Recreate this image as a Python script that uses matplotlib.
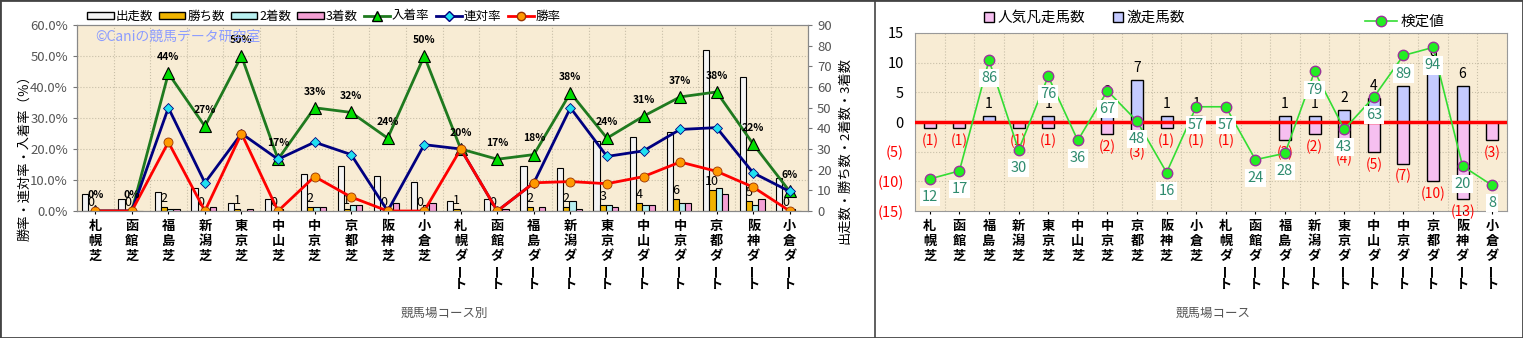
import numpy as np
import matplotlib
matplotlib.use('Agg')
import matplotlib.pyplot as plt
from matplotlib.lines import Line2D
from matplotlib.patches import Rectangle, Patch

plt.rcParams['font.family'] = ['Noto Sans CJK JP', 'DejaVu Sans']

# ---- data ----
courses = ['札幌芝', '函館芝', '福島芝', '新潟芝', '東京芝', '中山芝', '中京芝', '京都芝', '阪神芝', '小倉芝',
           '札幌ダート', '函館ダート', '福島ダート', '新潟ダート', '東京ダート', '中山ダート', '中京ダート',
           '京都ダート', '阪神ダート', '小倉ダート']

runs = [8, 6, 9, 11, 4, 6, 18, 22, 17, 14, 5, 6, 22, 21, 34, 36, 38, 78, 65, 16]
wins = [0, 0, 2, 0, 1, 0, 2, 1, 0, 0, 1, 0, 2, 2, 3, 4, 6, 10, 5, 0]
seconds = [0, 0, 1, 1, 0, 1, 2, 3, 0, 3, 0, 0, 0, 5, 3, 3, 4, 11, 3, 1]
thirds = [0, 0, 1, 2, 1, 0, 2, 3, 4, 4, 0, 1, 2, 1, 2, 3, 4, 8, 6, 0]

place_rate = [0, 0, 44.4, 27.3, 50.0, 16.7, 33.3, 31.8, 23.5, 50.0,
              20.0, 16.7, 18.2, 38.1, 23.5, 30.6, 36.8, 38.4, 21.6, 6.3]
quinella_rate = [0, 0, 33.3, 9.1, 25.0, 16.7, 22.2, 18.2, 0, 21.4,
                 20.0, 0, 9.1, 33.3, 17.6, 19.4, 26.3, 26.9, 12.3, 6.3]
win_rate = [0, 0, 22.2, 0, 25.0, 0, 11.1, 4.5, 0, 0,
            20.0, 0, 9.1, 9.5, 8.8, 11.1, 15.8, 12.8, 7.7, 0]

popular_fail = [-1, -1, 0, -1, -1, 0, -2, -3, -1, -1, -1, 0, -3, -2, -4, -5, -7, -10, -13, -3]
longshot = [0, 0, 1, 0, 1, 0, 3, 7, 1, 1, 0, 0, 1, 1, 2, 4, 6, 9, 6, 0]
test_value = [12, 17, 86, 30, 76, 36, 67, 48, 16, 57, 57, 24, 28, 79, 43, 63, 89, 94, 20, 8]

W, H = 1523, 338
fig = plt.figure(figsize=(W / 100, H / 100), dpi=100)
fig.patch.set_facecolor('white')

x = np.arange(len(courses))
bg = '#f8ecd4'
gridc = '#c8bfa8'


def vertical_labels(ax):
    # 縦書きのコース名
    ax.set_xticks(x)
    ax.set_xticklabels([''] * len(x))
    for i, name in enumerate(courses):
        for j, ch in enumerate(name):
            ax.annotate(ch, xy=(x[i], 0), xycoords=('data', 'axes fraction'),
                        xytext=(0, -11 - j * 10.6), textcoords='offset points',
                        ha='center', va='center', fontsize=9.5, fontweight='bold',
                        rotation=90 if ch == 'ー' else 0, annotation_clip=False)


# ================= left chart =================
axb = fig.add_axes([77 / W, 1 - 211 / H, 731 / W, 186 / H])
axb.set_facecolor(bg)
bar_cols = ['#f4f4f4', '#f0b400', '#b8f0f0', '#f4a0d4']
bar_names = ['出走数', '勝ち数', '2着数', '3着数']
w = 0.17
for k, (vals, col) in enumerate(zip([runs, wins, seconds, thirds], bar_cols)):
    axb.bar(x + (k - 1.5) * w - 0.03, vals, w, color=col, edgecolor='black', lw=0.8, zorder=2)
axb.set_xlim(-0.5, len(courses) - 0.5)
axb.set_ylim(0, 90)
axb.set_yticks(range(0, 91, 10))
vertical_labels(axb)
axb.tick_params(axis='x', length=2)
axb.set_xticks(np.arange(-0.5, len(courses), 1), minor=True)
axb.tick_params(axis='x', which='minor', length=0)
axb.grid(which='minor', axis='x', ls=':', color=gridc, lw=0.8, zorder=0)
for yy in range(15, 90, 15):
    axb.axhline(yy, ls=':', color=gridc, lw=0.8, zorder=0)
for s in axb.spines.values():
    s.set_color('#888888')

for i in x:
    axb.annotate(str(wins[i]), (x[i] - 0.5 * w - 0.03, wins[i]), xytext=(0, 1.5),
                 textcoords='offset points', ha='center', va='bottom', fontsize=9, zorder=3)

axl = axb.twinx()
axl.yaxis.tick_left()
axb.yaxis.tick_right()
axb.tick_params(axis='y', labelsize=9.5, labelcolor='#555555', length=3, color='#777777')
axl.set_ylim(0, 60)
axl.set_yticks(range(0, 61, 10))
axl.set_yticklabels([f'{v:.1f}%' for v in range(0, 61, 10)])
axl.tick_params(axis='y', labelsize=9.5, labelcolor='#555555', length=3, color='#777777')
for s in axl.spines.values():
    s.set_color('#888888')

axl.plot(x, place_rate, color='#1f7a1f', lw=2, marker='^', ms=8, mfc='#00dd00', mec='black', mew=0.8)
axl.plot(x, quinella_rate, color='#000080', lw=2, marker='D', ms=5, mfc='#20e0f0', mec='#000080', mew=0.6)
axl.plot(x, win_rate, color='#ff0000', lw=2, marker='o', ms=6.5, mfc='#ff9900', mec='#993300', mew=0.6)
for i in x:
    axl.annotate(f'{place_rate[i]:.0f}%', (x[i], place_rate[i]), xytext=(0, 8),
                 textcoords='offset points', ha='center', va='bottom', fontsize=7.5, fontweight='bold')

axl.text(0.025, 0.915, '©Caniの競馬データ研究室', transform=axl.transAxes, color='#8c9cff', fontsize=10)

fig.text(25 / W, 1 - 155 / H, '勝率・連対率・入着率（％）', rotation=90, ha='center', va='center', fontsize=9.5)
fig.text(845 / W, 1 - 150 / H, '出走数・勝ち数・2着数・3着数', rotation=90, ha='center', va='center', fontsize=9.5)
fig.text(444 / W, 1 - 313 / H, '競馬場コース別', ha='center', va='center', fontsize=9, color='#555555')

handles = [Patch(facecolor=c, edgecolor='black') for c in bar_cols]
handles += [Line2D([], [], color='#1f7a1f', lw=2, marker='^', ms=7, mfc='#00dd00', mec='black'),
            Line2D([], [], color='#000080', lw=2, marker='D', ms=5, mfc='#20e0f0', mec='#000080'),
            Line2D([], [], color='#ff0000', lw=2, marker='o', ms=6, mfc='#ff9900', mec='#993300')]
fig.legend(handles, bar_names + ['入着率', '連対率', '勝率'], loc='center left',
           bbox_to_anchor=(76 / W, 1 - 16 / H), ncol=7, frameon=False, fontsize=9,
           handlelength=2.1, handleheight=0.5, columnspacing=0.5, handletextpad=0.15)

# ================= right chart =================
ax2 = fig.add_axes([915 / W, 1 - 211 / H, 592 / W, 178 / H])
ax2.set_facecolor(bg)
ax2.bar(x, popular_fail, 0.4, color='#f6bff0', edgecolor='black', lw=1, zorder=2)
ax2.bar(x, longshot, 0.4, color='#c4caff', edgecolor='black', lw=1, zorder=2)
ax2.axhline(0, color='#ff0000', lw=2.5, zorder=3)
ax2.set_xlim(-0.5, len(courses) - 0.5)
ax2.set_ylim(-15, 15)
yt = list(range(-15, 16, 5))
ax2.set_yticks(yt)
ax2.set_yticklabels([f'({-v})' if v < 0 else str(v) for v in yt])
for lab, v in zip(ax2.get_yticklabels(), yt):
    lab.set_color('#ff0000' if v < 0 else 'black')
ax2.tick_params(axis='y', labelsize=10.5, length=0, pad=8)
vertical_labels(ax2)
ax2.tick_params(axis='x', length=2)
ax2.set_xticks(np.arange(-0.5, len(courses), 1), minor=True)
ax2.tick_params(axis='x', which='minor', length=0)
ax2.grid(which='minor', axis='x', ls=':', color=gridc, lw=0.8, zorder=0)
ax2.grid(which='major', axis='y', ls=':', color=gridc, lw=0.8, zorder=0)
for s in ax2.spines.values():
    s.set_color('#999999')

for i in x:
    if longshot[i] > 0:
        ax2.annotate(str(longshot[i]), (x[i], longshot[i]), xytext=(0, 4), textcoords='offset points',
                     ha='center', va='bottom', fontsize=10, zorder=4)
    if popular_fail[i] < 0:
        ax2.annotate(f'({-popular_fail[i]})', (x[i], popular_fail[i]), xytext=(0, -4),
                     textcoords='offset points', ha='center', va='top', fontsize=10,
                     color='#ff0000', zorder=4)

ax3 = ax2.twinx()
ax3.set_ylim(-8, 103)
ax3.axis('off')
ax3.plot(x, test_value, color='#33dd33', lw=1.2, marker='o', ms=7.5, mfc='#22ee22', mec='#993399',
         mew=1, zorder=5)
for i in x:
    ax3.annotate(str(test_value[i]), (x[i], test_value[i]), xytext=(0, -13), textcoords='offset points',
                 ha='center', va='center', fontsize=10.5, color='#2e8b6e', zorder=6,
                 bbox=dict(facecolor='white', edgecolor='none', pad=1.5))

fig.text(1213 / W, 1 - 313 / H, '競馬場コース', ha='center', va='center', fontsize=9, color='#555555')

h2 = [Line2D([], [], ls='none', marker='s', ms=7, mfc='#f6bff0', mec='black'),
      Line2D([], [], ls='none', marker='s', ms=7, mfc='#c4caff', mec='black')]
fig.legend(h2, ['人気凡走馬数', '激走馬数'], loc='center left', bbox_to_anchor=(970 / W, 1 - 18 / H),
           ncol=2, frameon=False, fontsize=10.5, handlelength=0.8, handletextpad=0.2, columnspacing=1.8)
h3 = [Line2D([], [], color='#33dd33', lw=1.2, marker='o', ms=7.5, mfc='#22ee22', mec='#993399')]
fig.legend(h3, ['検定値'], loc='center left', bbox_to_anchor=(1352 / W, 1 - 22 / H),
           frameon=False, fontsize=10.5, handlelength=2.2, handletextpad=0.2)

# panel frames
fig.add_artist(Rectangle((0, 0), 1, 1, transform=fig.transFigure, fill=False, ec='#444444', lw=2))
fig.add_artist(Line2D([875 / W, 875 / W], [0, 1], transform=fig.transFigure, color='#444444', lw=1.2))

fig.savefig('out.png', dpi=100)
